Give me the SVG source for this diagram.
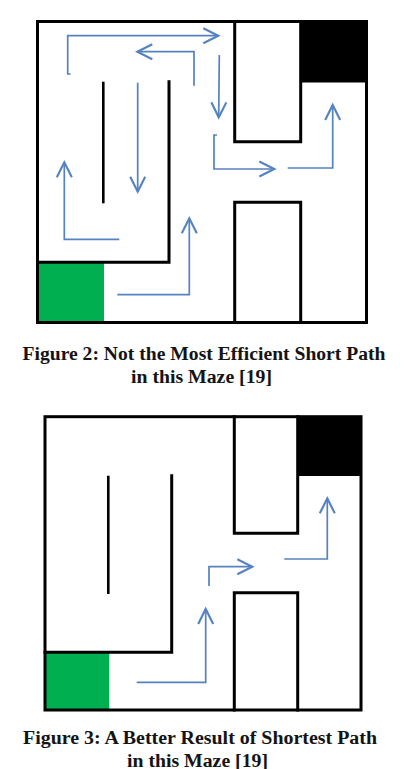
<svg xmlns="http://www.w3.org/2000/svg" width="405" height="769" viewBox="0 0 405 769">
<style>
.wall{fill:none;stroke:#000;stroke-width:3;stroke-linejoin:miter;stroke-linecap:square}
.thin{fill:none;stroke:#000;stroke-width:2.6}
.goal{fill:#000}
.start{fill:#00b050}
.arr{fill:none;stroke:#5582c0;stroke-width:1.7}
.cap{font-family:"Liberation Serif","Times New Roman",serif;font-weight:bold;font-size:18.6px;fill:#141414}
</style>
<defs>
<marker id="chev" markerUnits="userSpaceOnUse" markerWidth="20" markerHeight="20" viewBox="-14 -8 16 16" refX="0" refY="0" orient="auto" overflow="visible">
<path d="M-12,-6 L0,0 L-12,6" fill="none" stroke="#5582c0" stroke-width="1.7"/>
</marker>
</defs>
<rect width="405" height="769" fill="#fff"/>

<g id="figure2">
<g id="f2-start"><rect class="start" x="37.5" y="262" width="66.5" height="60"/></g>
<g id="f2-goal"><rect class="goal" x="300.7" y="21.5" width="66" height="61"/></g>
<g id="f2-walls">
<rect class="wall" x="37.5" y="21.5" width="329" height="301"/>
<path class="wall" d="M234.7,21.5 V141.7 H300.7 V21.5"/>
<path class="wall" d="M234.7,322.5 V202.3 H300.7 V322.5"/>
<path class="wall" d="M37.5,262.3 H169 V81.7"/>
<path class="thin" d="M103.3,81.7 V203.3"/>
</g>
</g>

<g id="figure3">
<g id="f3-start"><rect class="start" x="45" y="652" width="64.3" height="58"/></g>
<g id="f3-goal"><rect class="goal" x="297.7" y="416.7" width="63.3" height="59.3"/></g>
<g id="f3-walls">
<rect class="wall" x="45" y="416.7" width="316" height="293.3"/>
<path class="wall" d="M234.3,416.7 V533.3 H297.7 V416.7"/>
<path class="wall" d="M234.3,710 V592.7 H297.7 V710"/>
<path class="wall" d="M45,652.3 H171.7 V475.7"/>
<path class="thin" d="M108.3,475.7 V594"/>
</g>
</g>

<g id="connectors">
<path class="arr" d="M70.7,74 H67.7 V35.7 H218.3" marker-end="url(#chev)"/>
<path class="arr" d="M194,85.7 V51.7 H137.3" marker-end="url(#chev)"/>
<path class="arr" d="M219.3,55 L218.7,117.3" marker-end="url(#chev)"/>
<path class="arr" d="M217,135 H214 V169 H274.3" marker-end="url(#chev)"/>
<path class="arr" d="M287.7,168 H332.7 V105" marker-end="url(#chev)"/>
<path class="arr" d="M137.7,82.7 V191.7" marker-end="url(#chev)"/>
<path class="arr" d="M119.3,239.3 H64.3 V162.3" marker-end="url(#chev)"/>
<path class="arr" d="M117.3,294.7 H189.3 V218.3" marker-end="url(#chev)"/>
<path class="arr" d="M136.7,682.3 H205.7 V609" marker-end="url(#chev)"/>
<path class="arr" d="M209,586 V566.7 H252.3" marker-end="url(#chev)"/>
<path class="arr" d="M284.3,559 H327.3 V498.3" marker-end="url(#chev)"/>
</g>

<g id="captions">
<text class="cap" x="22.5" y="360" textLength="363" lengthAdjust="spacingAndGlyphs">Figure 2: Not the Most Efficient Short Path</text>
<text class="cap" x="131" y="383" textLength="141" lengthAdjust="spacingAndGlyphs">in this Maze [19]</text>
<text class="cap" x="23" y="744" textLength="354" lengthAdjust="spacingAndGlyphs">Figure 3: A Better Result of Shortest Path</text>
<text class="cap" x="127" y="766.5" textLength="141" lengthAdjust="spacingAndGlyphs">in this Maze [19]</text>
</g>
</svg>
